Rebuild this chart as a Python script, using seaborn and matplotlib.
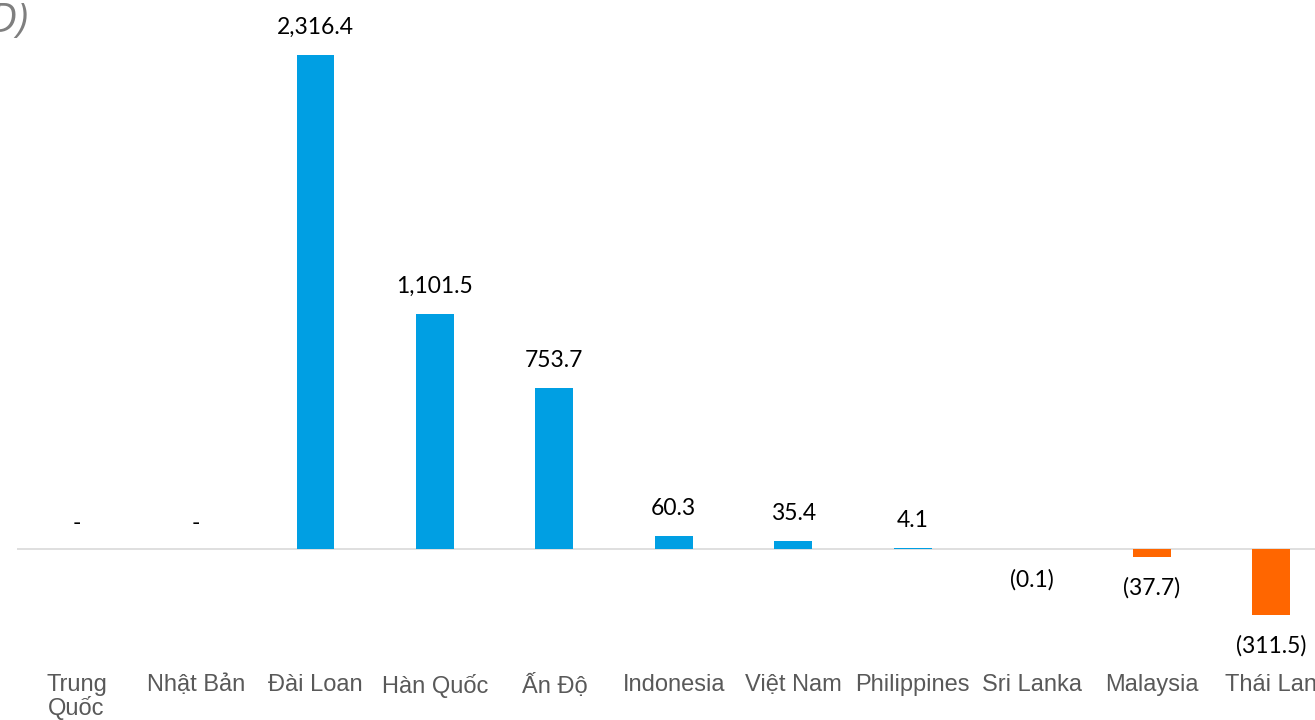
import matplotlib
matplotlib.use("Agg")
import matplotlib.pyplot as plt
import seaborn as sns
import pandas as pd

categories = ["Trung\nQuốc", "Nhật Bản", "Đài Loan", "Hàn Quốc", "Ấn Độ", "Indonesia",
              "Việt Nam", "Philippines", "Sri Lanka", "Malaysia", "Thái Lan"]
values = [0.0, 0.0, 2316.4, 1101.5, 753.7, 60.3, 35.4, 4.1, -0.1, -37.7, -311.5]
labels = ["-", "-", "2,316.4", "1,101.5", "753.7", "60.3", "35.4", "4.1", "(0.1)", "(37.7)", "(311.5)"]
title_text = "(Triệu USD)"

BLUE = "#009FE3"
ORANGE = "#FF6600"

sns.set_theme(style="white")
plt.rcParams['font.family'] = ['Liberation Sans', 'DejaVu Sans']

df = pd.DataFrame({"cat": categories, "val": values})
colors = [BLUE if v >= 0 else ORANGE for v in values]

W, H = 1315, 720
fig = plt.figure(figsize=(W / 100, H / 100), dpi=100)
ax_left = 16.9 / W
ax_right = 1330.7 / W
ax_bottom = (H - 660) / H
ax = fig.add_axes([ax_left, ax_bottom, ax_right - ax_left, 660 / H])

sns.barplot(data=df, x="cat", y="val", hue="cat", palette=colors, legend=False,
            width=0.318, saturation=1, linewidth=0, ax=ax, zorder=2)

ax.set_ylim(-522.8, 2572)
ax.set_xlim(-0.5, len(categories) - 0.5)
ax.axhline(0, color="#D9D9D9", lw=1.2, zorder=1.5)

for i, (v, lab) in enumerate(zip(values, labels)):
    if v > 0:
        off = 27
    elif v == 0:
        off = 25
    else:
        off = -31
    ax.annotate(lab, xy=(i, v), xytext=(0, off), textcoords="offset pixels",
                ha="center", va="center", fontsize=16.5, color="#000000",
                family=["Lato", "DejaVu Sans"], annotation_clip=False)

for s in ax.spines.values():
    s.set_visible(False)
ax.set_yticks([])
ax.set_xlabel("")
ax.set_ylabel("")
ax.tick_params(axis="x", length=0, pad=10, labelsize=17, labelcolor="#595959")
for t in ax.get_xticklabels():
    t.set_family(["Liberation Sans", "DejaVu Sans"])
    t.set_linespacing(1.0)
ax.grid(False)

fig.text(28 / W, 1 - 22 / H, title_text, ha="right", va="center", fontsize=29,
         style="italic", color="#7F7F7F", family=["Open Sans", "DejaVu Sans"])

fig.savefig("out.png", dpi=100)
